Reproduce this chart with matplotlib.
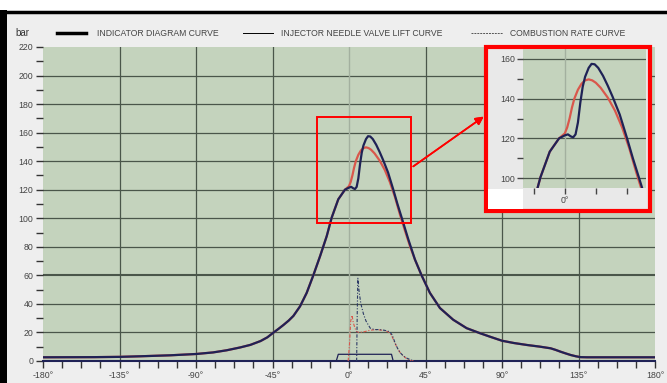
import matplotlib.pyplot as plt
import matplotlib.ticker as mticker
from matplotlib.patches import Rectangle
from matplotlib.lines import Line2D

# ==========================
# DADOS
# ==========================
ang_fired = [-180, -150, -135, -123, -105, -90, -80, -72, -64, -58, -52, -48, -44.9, -41.5,
             -38.6, -35.5, -32.7, -28.8, -24.9, -21, -17, -13.1, -10.2, -6.3, -2.4, 0, 1.3,
             2.5, 3.5, 4.5, 5.5, 6.5, 7.5, 8.5, 10, 11.2, 12.5, 14, 16, 18, 20, 23, 26, 28.5,
             31, 34.9, 38.8, 42.7, 47.6, 53.5, 61.3, 69.2, 77, 83, 90, 97, 104.8, 112, 118.6,
             121.5, 124.5, 127.5, 130.4, 133.5, 136.3, 140, 160, 180]
p_fired = [2.6, 2.7, 2.9, 3.3, 4.0, 4.9, 6.0, 7.5, 9.5, 11.3, 14, 16.6, 19.5, 22.5,
           25.2, 28.3, 31.6, 38.3, 47.7, 60, 73.5, 87.5, 100.4, 113.3, 120, 121.5, 122,
           121, 120.5, 122, 128, 138, 146, 151, 155.5, 157.5, 157.3, 155.5, 151.5, 146.5, 141, 132, 120.3, 110,
           100.4, 85.2, 71.1, 60, 47.7, 37.1, 28.9, 23, 19.5, 17.0, 14.2, 12.6, 11.2, 10.1, 8.9,
           7.8, 6.5, 5.3, 4.2, 3.3, 2.7, 2.6, 2.6, 2.6]

ang_ref = [-180, -150, -135, -123, -105, -90, -80, -72, -64, -58, -52, -48, -44.9, -41.5,
           -38.6, -35.5, -32.7, -28.8, -24.9, -21, -17, -13.1, -10.2, -6.3, -2.4, 0, 1,
           2, 3, 4, 5.5, 7, 8.5, 10, 11.5, 13, 15, 18, 21, 24, 27, 30, 33, 36, 38.8,
           42.7, 47.6, 53.5, 61.3, 69.2, 77, 83, 90, 97, 104.8, 112, 118.6,
           121.5, 124.5, 127.5, 130.4, 133.5, 136.3, 140, 160, 180]
p_ref = [2.6, 2.7, 2.9, 3.3, 4.0, 4.9, 6.0, 7.5, 9.5, 11.3, 14, 16.6, 19.5, 22.5,
         25.2, 28.3, 31.6, 38.3, 47.7, 60, 73.5, 87.5, 100.4, 113.3, 120, 122.5, 125.5,
         130, 135.5, 140, 144.5, 147.5, 149.2, 149.7, 149.2, 148, 145.5, 140.5, 134, 125.5, 115, 102.5, 91, 80, 71,
         60, 47.7, 37.1, 28.9, 23, 19.5, 17.0, 14.2, 12.6, 11.2, 10.1, 8.9,
         7.8, 6.5, 5.3, 4.2, 3.3, 2.7, 2.6, 2.6, 2.6]

ang_lift = [-7.5, -6.3, 25, 26]
lift = [0, 4.7, 4.7, 0]

ang_comb1 = [4.5, 4.8, 5.2, 6, 7, 8.5, 10, 12.5, 15, 18, 21, 24, 25.5, 27, 28.5, 30, 32, 34, 36, 38]
comb1 = [0, 30, 58, 48, 40, 33, 28, 23, 22, 22, 21.5, 20.5, 18, 13, 9, 6, 3.5, 2, 1, 0]

ang_comb2 = [-0.5, 0.3, 1, 1.8, 2.5, 3.5, 4.5, 6, 9, 12, 16, 20, 23, 25, 26.5, 28, 30, 32, 34, 36, 38]
comb2 = [0, 12, 28, 32, 27, 23, 20.5, 20, 20.5, 21.5, 22, 21.5, 20.5, 18, 14, 10, 6, 3.5, 1.5, 0.5, 0]

xticks = [-180, -135, -90, -45, 0, 45, 90, 135, 180]
legend_labels = ['INDICATOR DIAGRAM CURVE', 'INJECTOR NEEDLE VALVE LIFT CURVE', 'COMBUSTION RATE CURVE']

NAVY = '#1f2256'
RED = '#d9574c'
GREEN = '#c4d3bd'
GRID = '#4a564a'
TXT = '#444444'
DASHDOT = (0, (3, 1.5, 1, 1.5))

plt.rcParams['font.family'] = ['Liberation Sans', 'DejaVu Sans']

W, H = 667, 383
fig = plt.figure(figsize=(W / 100, H / 100), dpi=100, facecolor='white')

def fx(x):
    return x / W

def fy(y):
    return 1 - y / H

# painel cinza + moldura preta
fig.add_artist(Rectangle((fx(6), 0), 1, fy(12), transform=fig.transFigure,
                         facecolor='#eeeeee', edgecolor='none', zorder=0))
fig.add_artist(Rectangle((0, 0), fx(7), fy(10), transform=fig.transFigure,
                         facecolor='black', edgecolor='none', zorder=1))
fig.add_artist(Line2D([0, 1], [fy(11.5), fy(11.5)], transform=fig.transFigure,
                      color='black', lw=2.5, zorder=1))

# ================================
# Eixo principal
# ================================
ax = fig.add_axes([fx(43), fy(361), fx(655) - fx(43), fy(47) - fy(361)])
ax.set_facecolor(GREEN)
ax.set_xlim(-180, 180)
ax.set_ylim(0, 220)

for yv in range(20, 220, 20):
    ax.axhline(yv, color=GRID, lw=1.5 if yv == 60 else 0.9, zorder=1)
for xv in [-135, -90, -45, 45, 90, 135]:
    ax.axvline(xv, color=GRID, lw=0.9, zorder=1)
ax.axvline(0, color='#a3b09f', lw=1.0, zorder=1)

ax.plot(ang_lift, lift, color=NAVY, lw=0.9, zorder=3)
ax.plot(ang_comb2, comb2, color=RED, lw=0.8, ls=DASHDOT, zorder=3)
ax.plot(ang_comb1, comb1, color='#2c3a66', lw=0.8, ls=DASHDOT, zorder=3)
ax.plot(ang_ref, p_ref, color=RED, lw=1.6, zorder=4)
ax.plot(ang_fired, p_fired, color=NAVY, lw=1.6, zorder=5)

ax.set_xticks(xticks)
ax.set_xticklabels([f'{v}°' for v in xticks])
ax.xaxis.set_minor_locator(mticker.MultipleLocator(11.25))
ax.yaxis.set_major_locator(mticker.MultipleLocator(20))
ax.yaxis.set_minor_locator(mticker.MultipleLocator(10))
ax.tick_params(which='both', direction='out', length=5, width=1, color='#333333',
               labelsize=6.3, labelcolor=TXT, pad=2)
for s in ['top', 'right', 'left']:
    ax.spines[s].set_visible(False)
ax.spines['bottom'].set_color(NAVY)
ax.spines['bottom'].set_linewidth(1.5)

# caixa de zoom + seta
ax.add_patch(Rectangle((-19, 97), 55.5, 74, facecolor='none', edgecolor='red', lw=1.4, zorder=6))
fig.add_artist(plt.annotate('', xy=(fx(486), fy(115)), xytext=(fx(411), fy(168)),
                            xycoords='figure fraction', textcoords='figure fraction',
                            arrowprops=dict(arrowstyle='-|>', color='red', lw=1.2,
                                            mutation_scale=12)))

# ================================
# Detalhe (inset)
# ================================
fig.add_artist(Rectangle((fx(486), fy(211)), fx(650) - fx(486), fy(47) - fy(211),
                         transform=fig.transFigure, facecolor='#e9e9e9',
                         edgecolor='red', lw=3, zorder=7))
fig.add_artist(Rectangle((fx(488), fy(209)), fx(523) - fx(488), fy(189) - fy(209),
                         transform=fig.transFigure, facecolor='white',
                         edgecolor='none', zorder=7.5))
axi = fig.add_axes([fx(523), fy(188), fx(646) - fx(523), fy(49) - fy(188)], zorder=8)
axi.set_facecolor(GREEN)
axi.set_xlim(-17.5, 34)
axi.set_ylim(95, 165)
for yv in [100, 120, 140, 160]:
    axi.axhline(yv, color=GRID, lw=0.9)
axi.axvline(0, color='#a3b09f', lw=1.0)
axi.plot(ang_ref, p_ref, color=RED, lw=1.6)
axi.plot(ang_fired, p_fired, color=NAVY, lw=1.6)
axi.set_xticks([-13, 0, 13, 26])
axi.set_xticklabels(['', '0°', '', ''])
axi.yaxis.set_major_locator(mticker.MultipleLocator(20))
axi.yaxis.set_minor_locator(mticker.MultipleLocator(10))
axi.tick_params(which='both', direction='out', length=4, width=1, color='#444444',
                labelsize=6.3, labelcolor=TXT, pad=2)
for s in axi.spines.values():
    s.set_visible(False)

# ================================
# Legenda
# ================================
fig.text(fx(15), fy(33), 'bar', fontsize=7, color='#333333', va='center')
fig.add_artist(Line2D([fx(57), fx(86)], [fy(33), fy(33)], color='black', lw=2.5))
fig.text(fx(97), fy(33), legend_labels[0], fontsize=6.2, color=TXT, va='center')
fig.add_artist(Line2D([fx(243), fx(273)], [fy(33), fy(33)], color='black', lw=0.7))
fig.text(fx(281), fy(33), legend_labels[1], fontsize=6.2, color=TXT, va='center')
fig.add_artist(Line2D([fx(471), fx(503)], [fy(33), fy(33)], color='#555555', lw=0.7,
                      ls=(0, (2, 1))))
fig.text(fx(510), fy(33), legend_labels[2], fontsize=6.2, color=TXT, va='center')

fig.savefig('out.png', dpi=100)
